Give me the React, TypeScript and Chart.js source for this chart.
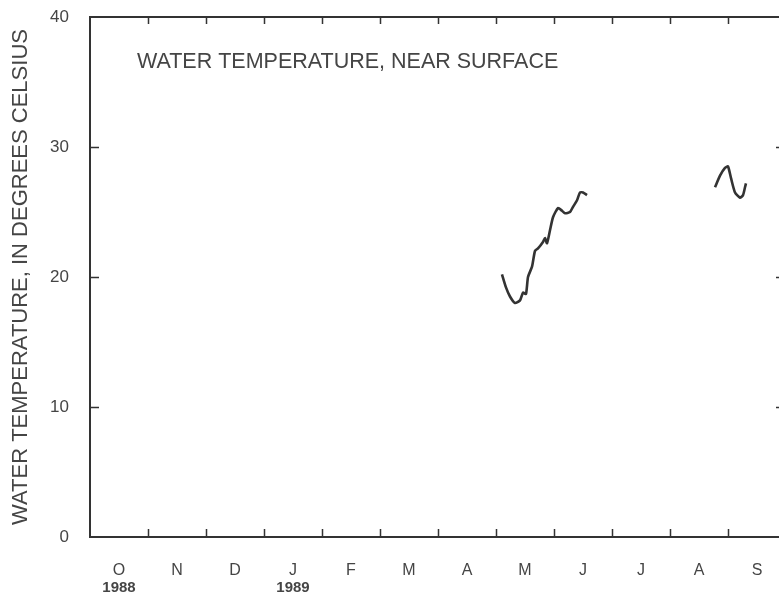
import { useEffect, useRef } from 'react';
import { Chart, registerables } from 'chart.js';

Chart.register(...registerables);

// Water year Oct 1988 - Sep 1989; x values are months elapsed since Oct 1, 1988
const monthLabels = ['O', 'N', 'D', 'J', 'F', 'M', 'A', 'M', 'J', 'J', 'A', 'S'];
const yearLabels = ['1988', '1989'];
const yearPositions = [0.5, 3.5];
const monthBoundaries = [1, 2, 3, 4, 5, 6, 7, 8, 9, 10, 11];
const tempTicks = [10, 20, 30];

const springMonths = [7.103, 7.172, 7.241, 7.328, 7.414, 7.466, 7.517, 7.552, 7.621, 7.672, 7.724, 7.81, 7.845, 7.879, 7.931, 7.983, 8.069, 8.138, 8.19, 8.276, 8.328, 8.397, 8.448, 8.5, 8.569];
const springTemps = [20.2, 19.2, 18.5, 18.0, 18.2, 18.8, 18.7, 20.0, 20.8, 22.0, 22.2, 22.7, 23.0, 22.6, 23.6, 24.6, 25.3, 25.1, 24.9, 25.0, 25.4, 25.9, 26.5, 26.5, 26.3];

const summerMonths = [10.776, 10.862, 10.948, 11.0, 11.052, 11.121, 11.207, 11.259, 11.293, 11.31];
const summerTemps = [26.9, 27.8, 28.4, 28.5, 27.6, 26.5, 26.1, 26.3, 26.9, 27.2];

const FONT = '"Liberation Sans", Arial, Helvetica, sans-serif';
const INK = '#333333';
const TEXT = '#454545';

const framePlugin = {
  id: 'frame',
  afterDatasetsDraw(chart: any) {
    const { ctx, chartArea } = chart;
    const { left, right, top, bottom } = chartArea;
    const xs = chart.scales.x;
    const ys = chart.scales.y;
    ctx.save();
    ctx.strokeStyle = INK;
    ctx.lineWidth = 2;
    ctx.strokeRect(left, top, right - left, bottom - top);
    ctx.lineWidth = 1.5;
    ctx.beginPath();
    monthBoundaries.forEach((m) => {
      const px = Math.round(xs.getPixelForValue(m)) + 0.5;
      ctx.moveTo(px, bottom);
      ctx.lineTo(px, bottom - 8);
      ctx.moveTo(px, top);
      ctx.lineTo(px, top + 7);
    });
    tempTicks.forEach((t) => {
      const py = Math.round(ys.getPixelForValue(t)) + 0.5;
      ctx.moveTo(left, py);
      ctx.lineTo(left + 9, py);
      ctx.moveTo(right, py);
      ctx.lineTo(right - 10, py);
    });
    ctx.stroke();
    // panel label
    ctx.fillStyle = TEXT;
    ctx.font = `21.5px ${FONT}`;
    ctx.textAlign = 'left';
    ctx.textBaseline = 'middle';
    ctx.fillText('WATER TEMPERATURE, NEAR SURFACE', left + 47, top + 45);
    ctx.restore();
  },
};

export default function App() {
  const ref = useRef<HTMLCanvasElement>(null);

  useEffect(() => {
    if (!ref.current) return;
    const lineStyle = {
      borderColor: INK,
      borderWidth: 2.6,
      pointRadius: 0,
      tension: 0.2,
      fill: false,
    };
    const chart = new Chart(ref.current, {
      type: 'line',
      data: {
        datasets: [
          { ...lineStyle, label: 'May-Jun', data: springMonths.map((m, i) => ({ x: m, y: springTemps[i] })) },
          { ...lineStyle, label: 'Aug-Sep', data: summerMonths.map((m, i) => ({ x: m, y: summerTemps[i] })) },
        ],
      },
      options: {
        responsive: false,
        animation: false,
        devicePixelRatio: 1,
        layout: { padding: { top: 17, right: 4, left: 0, bottom: 0 } },
        plugins: { legend: { display: false }, tooltip: { enabled: false } },
        scales: {
          x: {
            type: 'linear',
            position: 'bottom',
            min: 0,
            max: 12,
            grid: { display: false, drawTicks: false },
            border: { display: false },
            afterBuildTicks: (s: any) => {
              s.ticks = monthLabels.map((_, i) => ({ value: i + 0.5 }));
            },
            ticks: {
              autoSkip: false,
              maxRotation: 0,
              padding: 24,
              color: TEXT,
              font: { family: FONT, size: 16 },
              callback: (_v: any, i: number) => monthLabels[i],
            },
            afterFit: (s: any) => {
              s.height = 42;
            },
          },
          x2: {
            type: 'linear',
            position: 'bottom',
            min: 0,
            max: 12,
            grid: { display: false, drawTicks: false },
            border: { display: false },
            afterBuildTicks: (s: any) => {
              s.ticks = yearPositions.map((v) => ({ value: v }));
            },
            ticks: {
              autoSkip: false,
              maxRotation: 0,
              padding: 0,
              color: TEXT,
              font: { family: FONT, size: 15, weight: 'bold' },
              callback: (_v: any, i: number) => yearLabels[i],
            },
            afterFit: (s: any) => {
              s.height = 17;
            },
          },
          y: {
            min: 0,
            max: 40,
            grid: { display: false, drawTicks: false },
            border: { display: false },
            ticks: {
              stepSize: 10,
              padding: 21,
              color: TEXT,
              font: { family: FONT, size: 17 },
            },
            title: {
              display: true,
              text: 'WATER TEMPERATURE, IN DEGREES CELSIUS',
              color: TEXT,
              font: { family: FONT, size: 22 },
              padding: { top: 8, bottom: 0 },
            },
            afterFit: (s: any) => {
              s.width = 90;
              s.paddingTop = 0;
              s.paddingBottom = 0;
            },
          },
        },
      },
      plugins: [framePlugin],
    });
    return () => chart.destroy();
  }, []);

  return (
    <div style={{ position: 'absolute', left: 0, top: 0, width: 779, height: 596, overflow: 'hidden', background: '#fff' }}>
      <canvas ref={ref} width={790} height={596} style={{ display: 'block' }} />
    </div>
  );
}
